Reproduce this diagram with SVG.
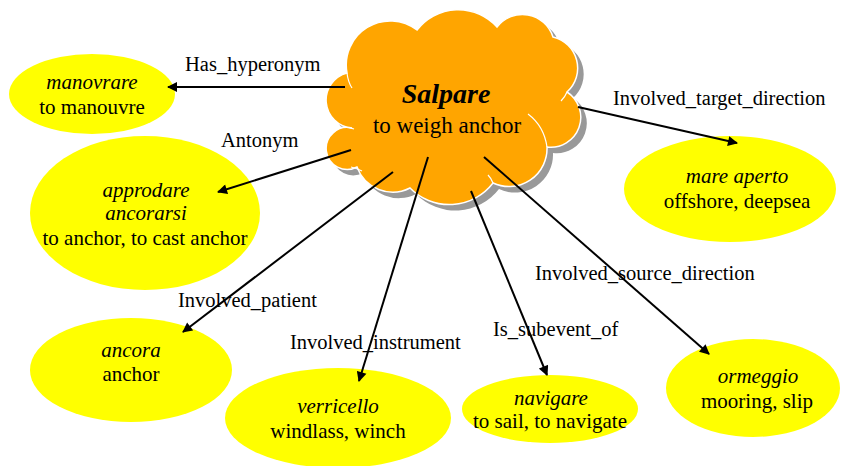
<svg xmlns="http://www.w3.org/2000/svg" width="842" height="466" viewBox="0 0 842 466">
<style>
text{font-family:'Liberation Serif','Times New Roman',serif;fill:#000;}
.n{font-size:21px;text-anchor:middle;}
.it{font-style:italic;}
.lb{font-size:20.5px;}
.el{fill:#FFFF00;}
.cn line{stroke:#000;stroke-width:2;marker-end:url(#ah);}
.inner{fill:none;stroke:#FFFFFF;stroke-width:1.2;}
</style>
<defs>
<marker id="ah" viewBox="0 0 10 10" refX="9" refY="5" markerWidth="5.5" markerHeight="5" orient="auto" markerUnits="strokeWidth">
<path d="M0,0 L10,5 L0,10 z" fill="#000"/>
</marker>
<path id="cloudShape" d="M352,128 A28,28 0 0 1 347,73 A44,44 0 0 1 417,30 A52,52 0 0 1 497,27 A32,32 0 0 1 553,37 A32,32 0 0 1 567,92 A30,30 0 0 1 547,147 A38,38 0 0 1 493,183 A55,55 0 0 1 410,188 A38,38 0 0 1 357,167 A21,21 0 1 1 352,128 Z"/>
</defs>

<g id="salpare">
<use href="#cloudShape" transform="translate(6,6)" fill="#999999"/>
<use href="#cloudShape" fill="#FFA500" stroke="#FFFFFF" stroke-width="1.5"/>
<path class="inner" d="M347,73 Q348,82 352,88"/>
<path class="inner" d="M338,128 Q346,126 354,129"/>
<path class="inner" d="M351,167 Q356,168 362,171"/>
<path class="inner" d="M417,30 Q419,24 424,20"/>
<path class="inner" d="M497,27 Q496,22 498,17"/>
<path class="inner" d="M567,92 Q565,97 561,101"/>
<path class="inner" d="M528,114 Q544,126 547,147"/>
<path class="inner" d="M493,183 Q491,178 488,175"/>
<text x="446" y="103" font-size="28" font-weight="bold" font-style="italic" text-anchor="middle">Salpare</text>
<text x="447" y="133" font-size="23" text-anchor="middle">to weigh anchor</text>
</g>

<g id="manovrare">
<ellipse class="el" cx="92" cy="94" rx="83" ry="40"/>
<text class="n it" x="92" y="89">manovrare</text>
<text class="n" x="92" y="114">to manouvre</text>
</g>

<g id="approdare">
<ellipse class="el" cx="145" cy="213" rx="115" ry="77"/>
<text class="n it" x="146" y="197">approdare</text>
<text class="n it" x="146" y="220">ancorarsi</text>
<text class="n" x="145" y="245">to anchor, to cast anchor</text>
</g>

<g id="ancora">
<ellipse class="el" cx="131" cy="370" rx="101" ry="52"/>
<text class="n it" x="131" y="357">ancora</text>
<text class="n" x="131" y="381">anchor</text>
</g>

<g id="verricello">
<ellipse class="el" cx="338" cy="418" rx="113" ry="50"/>
<text class="n it" x="338" y="413">verricello</text>
<text class="n" x="338" y="438">windlass, winch</text>
</g>

<g id="navigare">
<ellipse class="el" cx="550" cy="409" rx="88" ry="34"/>
<text class="n it" x="551" y="405">navigare</text>
<text class="n" x="550" y="428">to sail, to navigate</text>
</g>

<g id="ormeggio">
<ellipse class="el" cx="753" cy="388" rx="87" ry="49"/>
<text class="n it" x="758" y="383">ormeggio</text>
<text class="n" x="757" y="408">mooring, slip</text>
</g>

<g id="mare_aperto">
<ellipse class="el" cx="730" cy="189" rx="106" ry="53"/>
<text class="n it" x="737" y="183">mare aperto</text>
<text class="n" x="737" y="208">offshore, deepsea</text>
</g>

<g id="connectors" class="cn">
<line x1="345" y1="87" x2="168" y2="87"/>
<line x1="351" y1="150" x2="218" y2="192"/>
<line x1="393" y1="172" x2="183" y2="332"/>
<line x1="428" y1="157" x2="359" y2="381"/>
<line x1="471" y1="191" x2="547" y2="375"/>
<line x1="484" y1="157" x2="709" y2="354"/>
<line x1="578" y1="107" x2="737" y2="143"/>
</g>

<g id="labels">
<text class="lb" x="185" y="71">Has_hyperonym</text>
<text class="lb" x="221" y="147">Antonym</text>
<text class="lb" x="613" y="105">Involved_target_direction</text>
<text class="lb" x="178" y="307">Involved_patient</text>
<text class="lb" x="290" y="349">Involved_instrument</text>
<text class="lb" x="535" y="280">Involved_source_direction</text>
<text class="lb" x="493" y="336">Is_subevent_of</text>
</g>
</svg>
